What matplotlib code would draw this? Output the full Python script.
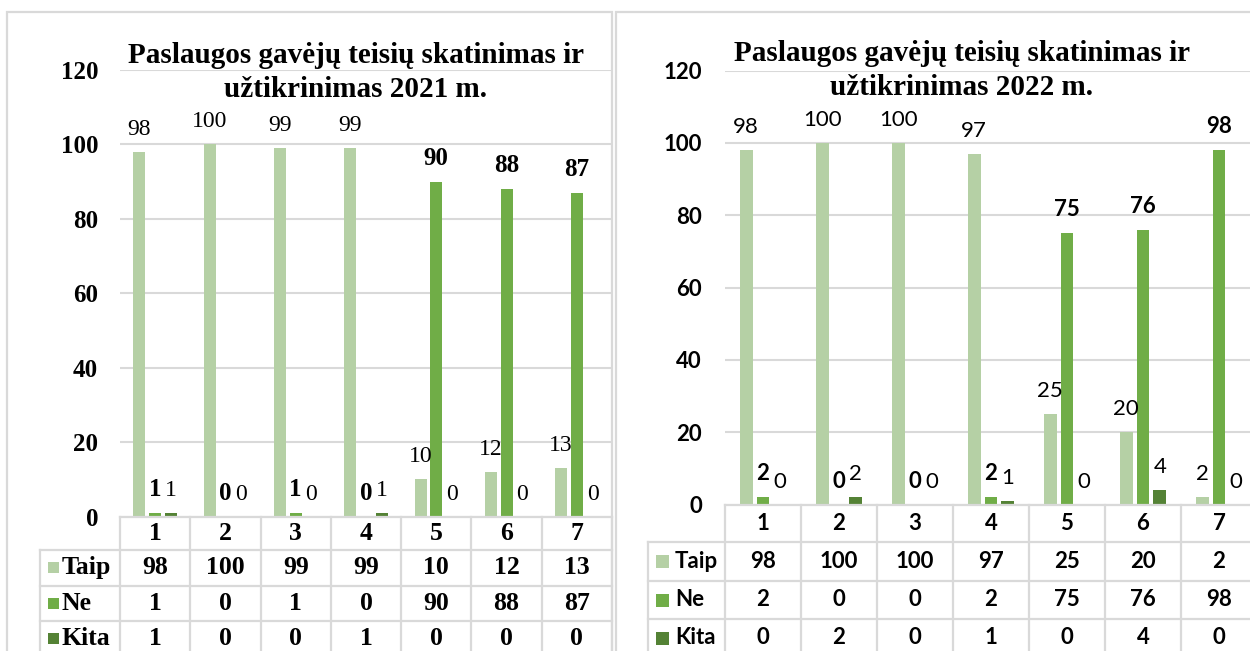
import matplotlib
matplotlib.use("Agg")
import matplotlib.pyplot as plt
from matplotlib.lines import Line2D
from matplotlib.patches import Rectangle
import numpy as np

W, H = 1250, 651

categories = ["1", "2", "3", "4", "5", "6", "7"]
series_names = ["Taip", "Ne", "Kita"]

taip_2021 = [98, 100, 99, 99, 10, 12, 13]
ne_2021 = [1, 0, 1, 0, 90, 88, 87]
kita_2021 = [1, 0, 0, 1, 0, 0, 0]

taip_2022 = [98, 100, 100, 97, 25, 20, 2]
ne_2022 = [2, 0, 0, 2, 75, 76, 98]
kita_2022 = [0, 2, 0, 1, 0, 4, 0]

title_2021 = ["Paslaugos gavėjų teisių skatinimas ir", "užtikrinimas 2021 m."]
title_2022 = ["Paslaugos gavėjų teisių skatinimas ir", "užtikrinimas 2022 m."]
y_ticks = [0, 20, 40, 60, 80, 100, 120]

colors = ["#b5d0a5", "#70ad47", "#548235"]
line_col = "#d9d9d9"


def fx(px):
    return px / W


def fy(py):
    return 1 - py / H


fig = plt.figure(figsize=(W / 100, H / 100), dpi=100)
fig.patch.set_facecolor("white")


def draw_panel(spec, series, title_lines):
    x0, x1, y0, ytop = spec["plot"]
    ax = fig.add_axes([fx(x0), fy(y0), (x1 - x0) / W, (y0 - ytop) / H])
    ax.set_xlim(-0.5, len(categories) - 0.5)
    ax.set_ylim(0, 120)
    for s in ax.spines.values():
        s.set_visible(False)
    ax.set_xticks([])
    ax.set_yticks(y_ticks)
    ax.set_yticklabels([str(t) for t in y_ticks])
    ax.tick_params(axis="y", length=0, pad=spec["tick_pad"])
    for lab in ax.get_yticklabels():
        lab.set_fontfamily(spec["font"])
        lab.set_fontweight("bold")
        lab.set_fontsize(spec["tick_size"])
    ax.grid(axis="y", color=line_col, lw=1.5)
    ax.set_axisbelow(True)

    x = np.arange(len(categories))
    for i, vals in enumerate(series):
        off = (i - 1) * spec["spacing"]
        ax.bar(x + off, vals, width=spec["bar_w"], color=colors[i], zorder=2)
        for xi, v in zip(x + off, vals):
            ax.annotate(str(v), (xi, v), xytext=(0, 12.2), textcoords="offset points",
                        ha="center", va="baseline", family=spec["font"],
                        fontsize=spec["lab_bold"] if i == 1 else spec["lab_size"],
                        fontweight="bold" if i == 1 else "normal",
                        annotation_clip=False, zorder=3)

    # title
    cx = spec["title_cx"]
    for line, base in zip(title_lines, spec["title_base"]):
        fig.text(fx(cx), fy(base), line, ha="center", va="baseline",
                 family="Liberation Serif", fontweight="bold",
                 fontsize=spec["title_size"])

    # data table under the axis
    fig.canvas.draw()
    edges = [ax.transData.transform((k - 0.5, 0))[0] for k in range(len(categories) + 1)]
    rows = spec["rows"]  # pixel y of row boundaries (top down)
    leg_left = spec["leg_left"]
    lw = 1.6

    def hline(xa, xb, yy):
        fig.add_artist(Line2D([fx(xa), fx(xb)], [fy(yy), fy(yy)],
                              transform=fig.transFigure, color=line_col, lw=lw))

    def vline(xx, ya, yb):
        fig.add_artist(Line2D([fx(xx), fx(xx)], [fy(ya), fy(yb)],
                              transform=fig.transFigure, color=line_col, lw=lw))

    hline(edges[0], edges[-1], rows[0])
    for r in rows[1:]:
        hline(leg_left, edges[-1], r)
    vline(leg_left, rows[1], rows[-1] + 10)
    for e in edges:
        vline(e, rows[0], rows[-1] + 10)

    centers = [(a + b) / 2 for a, b in zip(edges[:-1], edges[1:])]
    yc = (rows[0] + rows[1]) / 2
    for c, cat in zip(centers, categories):
        fig.text(fx(c), fy(yc), cat, ha="center", va="center", family=spec["font"],
                 fontweight="bold", fontsize=spec["table_size"])
    for i, (name, vals) in enumerate(zip(series_names, series)):
        yc = (rows[i + 1] + rows[i + 2]) / 2
        sq = spec["sq"]
        sx = spec["sq_x"]
        fig.add_artist(Rectangle((fx(sx), fy(yc + sq / 2)), sq / W, sq / H,
                                 transform=fig.transFigure, color=colors[i], lw=0))
        fig.text(fx(spec["leg_text_x"]), fy(yc), name, ha="left", va="center",
                 family=spec["font"], fontweight="bold", fontsize=spec["table_size"])
        for c, v in zip(centers, vals):
            fig.text(fx(c), fy(yc), str(v), ha="center", va="center",
                     family=spec["font"], fontweight="bold", fontsize=spec["table_size"])

    # panel frame
    px0, px1, py0 = spec["frame"]
    fig.add_artist(Rectangle((fx(px0), fy(H + 20)), (px1 - px0) / W, (H + 20 - py0) / H,
                             transform=fig.transFigure, fill=False,
                             edgecolor=line_col, lw=1.6))
    return ax


spec_2021 = dict(
    plot=(120, 612, 516.5, 70), tick_pad=15.8, font="Liberation Serif",
    tick_size=18, lab_size=17, lab_bold=18, spacing=0.223, bar_w=0.17,
    title_cx=356, title_base=(63, 97), title_size=21,
    rows=(516.5, 549.5, 586, 621, 656), leg_left=40, table_size=18.5,
    sq=11, sq_x=48, leg_text_x=62, frame=(7, 612.3, 12),
)
spec_2022 = dict(
    plot=(725, 1257, 504.5, 70.5), tick_pad=16.6, font="Lato",
    tick_size=16, lab_size=16, lab_bold=16, spacing=0.22, bar_w=0.17,
    title_cx=962, title_base=(61, 95), title_size=21,
    rows=(504.5, 541.7, 581, 619, 657), leg_left=648, table_size=16,
    sq=13, sq_x=656, leg_text_x=675, frame=(615.7, 1300, 12),
)

draw_panel(spec_2021, [taip_2021, ne_2021, kita_2021], title_2021)
draw_panel(spec_2022, [taip_2022, ne_2022, kita_2022], title_2022)

fig.savefig("out.png", dpi=100, facecolor="white")
